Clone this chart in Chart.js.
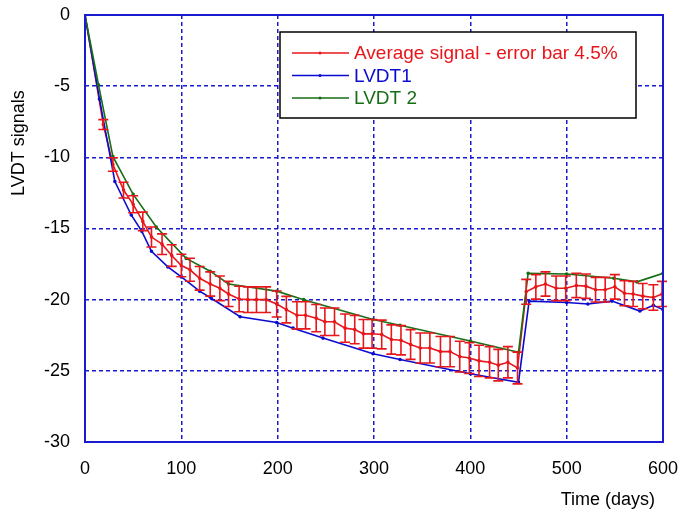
<!DOCTYPE html>
<html lang="en">
<head>
    <meta charset="UTF-8">
    <title>LVDT signals</title>
    <style>
        body { margin: 0; background: #fff; }
        canvas { display: block; }
    </style>
    <script src="https://cdn.jsdelivr.net/npm/chart.js"></script>
</head>
<body>
    <canvas id="chart" width="678" height="523"></canvas>

    <script>
        // values
        const avgDays = [0, 19, 29, 40, 50, 60, 69, 80, 90, 100, 109, 119, 130, 140, 149, 160, 169, 178, 188, 199,
            209, 220, 229, 240, 249, 259, 270, 280, 289, 298, 308, 318, 328, 338, 348, 358, 369, 379, 389, 399,
            409, 420, 429, 439, 449, 458, 468, 478, 489, 499, 510, 520, 530, 540, 550, 560, 569, 579, 590, 599];
        const avgSignal = [0, -7.7, -10.5, -12.3, -13.3, -14.5, -15.6, -16.1, -16.9, -17.6, -17.9, -18.5, -18.9, -19.2, -19.6, -19.95, -20.0, -20.0, -20.0, -20.3,
            -20.7, -21.1, -21.1, -21.3, -21.55, -21.55, -22.0, -22.1, -22.4, -22.4, -22.45, -22.8, -22.85, -23.15, -23.4, -23.4, -23.65, -23.65, -24.0, -24.1,
            -24.3, -24.4, -24.6, -24.4, -24.8, -19.45, -19.1, -18.9, -19.2, -19.2, -19.0, -19.05, -19.3, -19.3, -19.1, -19.55, -19.6, -19.75, -19.85, -19.6];
        const errorPct = 0.045;

        const lvdt1Days = [0, 15, 31, 48, 59, 69, 86, 100, 119, 131, 161, 199, 216, 247, 299, 327, 400, 450, 461, 500, 522, 547, 576, 590, 600];
        const lvdt1Signal = [0, -5.9, -11.7, -14.05, -15.2, -16.6, -17.7, -18.4, -19.4, -19.9, -21.2, -21.6, -22.0, -22.7, -23.8, -24.2, -25.2, -25.8, -20.1, -20.2, -20.3, -20.1, -20.8, -20.4, -20.7];

        const lvdt2Days = [0, 14, 29, 50, 74, 105, 130, 149, 199, 227, 299, 327, 400, 450, 460, 500, 549, 573, 600];
        const lvdt2Signal = [0, -4.9, -9.95, -12.6, -14.9, -17.1, -18.0, -18.9, -19.4, -20.0, -21.4, -21.8, -22.9, -23.7, -18.15, -18.2, -18.5, -18.75, -18.15];

        const xTicks = [0, 100, 200, 300, 400, 500, 600];
        const yTicks = [-30, -25, -20, -15, -10, -5, 0];

        const red = '#e8161b';
        const blue = '#0b0bd0';
        const green = '#176e17';
        const gridBlue = '#1a1ad0';
        const font = 'Liberation Sans, Arial, sans-serif';

        function points(xs, ys) {
            return xs.map((x, i) => ({ x: x, y: ys[i] }));
        }

        // drop the automatic label overhang so layout.padding decides the plot edges
        function noOverhang(s) {
            s.paddingLeft = 0;
            s.paddingRight = 0;
            s.paddingTop = 0;
            s.paddingBottom = 0;
        }

        const decor = {
            id: 'decor',
            afterDatasetsDraw(chart) {
                // error bars on the average signal
                const ctx = chart.ctx;
                const xs = chart.scales.x;
                const ys = chart.scales.y;
                ctx.save();
                ctx.strokeStyle = red;
                ctx.lineWidth = 1.6;
                avgSignal.forEach((v, i) => {
                    const err = Math.abs(v) * errorPct;
                    if (err === 0) return;
                    const x = xs.getPixelForValue(avgDays[i]);
                    const y1 = ys.getPixelForValue(v + err);
                    const y2 = ys.getPixelForValue(v - err);
                    ctx.beginPath();
                    ctx.moveTo(x, y1); ctx.lineTo(x, y2);
                    ctx.moveTo(x - 5, y1); ctx.lineTo(x + 5, y1);
                    ctx.moveTo(x - 5, y2); ctx.lineTo(x + 5, y2);
                    ctx.stroke();
                });
                ctx.restore();
            },
            afterDraw(chart) {
                const ctx = chart.ctx;
                const a = chart.chartArea;
                ctx.save();

                // plot frame
                ctx.strokeStyle = gridBlue;
                ctx.lineWidth = 2;
                ctx.strokeRect(a.left, a.top, a.right - a.left, a.bottom - a.top);

                // axis titles
                ctx.fillStyle = '#000';
                ctx.font = '18px ' + font;
                ctx.textBaseline = 'middle';
                ctx.textAlign = 'right';
                ctx.fillText('Time (days)', a.right - 8, a.bottom + 58);
                ctx.textAlign = 'center';
                ctx.translate(19, a.top + (a.bottom - a.top) * 0.3);
                ctx.rotate(-Math.PI / 2);
                ctx.fillText('LVDT signals', 0, 0);
                ctx.setTransform(1, 0, 0, 1, 0, 0);

                // legend box inside the plot
                const bx = a.left + 195, by = a.top + 17, bw = 356, bh = 86;
                ctx.fillStyle = '#fff';
                ctx.fillRect(bx, by, bw, bh);
                ctx.strokeStyle = '#000';
                ctx.lineWidth = 1.5;
                ctx.strokeRect(bx, by, bw, bh);
                ctx.font = '19px ' + font;
                ctx.textAlign = 'left';
                chart.data.datasets.forEach((ds, i) => {
                    const y = by + 21 + i * 22.5;
                    ctx.strokeStyle = ds.borderColor;
                    ctx.fillStyle = ds.borderColor;
                    ctx.lineWidth = 1.5;
                    ctx.beginPath();
                    ctx.moveTo(bx + 12, y); ctx.lineTo(bx + 69, y);
                    ctx.stroke();
                    ctx.beginPath();
                    ctx.arc(bx + 40, y, 1.5, 0, Math.PI * 2);
                    ctx.fill();
                    ctx.fillText(ds.label, bx + 74, y + 1);
                });
                ctx.restore();
            }
        };

        new Chart(document.getElementById('chart'), {
            type: 'line',
            data: {
                datasets: [
                    { label: 'Average signal - error bar 4.5%', data: points(avgDays, avgSignal), borderColor: red, backgroundColor: red, borderWidth: 1.6, pointRadius: 1, order: 3 },
                    { label: 'LVDT1', data: points(lvdt1Days, lvdt1Signal), borderColor: blue, backgroundColor: blue, borderWidth: 1.6, pointRadius: 1, order: 2 },
                    { label: 'LVDT 2', data: points(lvdt2Days, lvdt2Signal), borderColor: green, backgroundColor: green, borderWidth: 1.6, pointRadius: 1, order: 1 }
                ]
            },
            options: {
                responsive: false,
                animation: false,
                layout: { padding: { top: 15, right: 15, left: 0, bottom: 0 } },
                plugins: {
                    legend: { display: false },
                    tooltip: { enabled: false }
                },
                scales: {
                    x: {
                        type: 'linear',
                        min: 0,
                        max: 600,
                        afterBuildTicks: s => { s.ticks = xTicks.map(v => ({ value: v })); },
                        afterFit: s => { s.height = 81; noOverhang(s); },
                        ticks: { padding: 16, color: '#000', font: { size: 18, family: font } },
                        grid: { color: gridBlue, lineWidth: 1.5, drawTicks: false },
                        border: { display: false, dash: [4, 3] }
                    },
                    y: {
                        min: -30,
                        max: 0,
                        afterBuildTicks: s => { s.ticks = yTicks.map(v => ({ value: v })); },
                        afterFit: s => { s.width = 85; noOverhang(s); },
                        ticks: { padding: 15, color: '#000', font: { size: 18, family: font } },
                        grid: { color: gridBlue, lineWidth: 1.5, drawTicks: false },
                        border: { display: false, dash: [4, 3] }
                    }
                }
            },
            plugins: [decor]
        });
    </script>
</body>
</html>
